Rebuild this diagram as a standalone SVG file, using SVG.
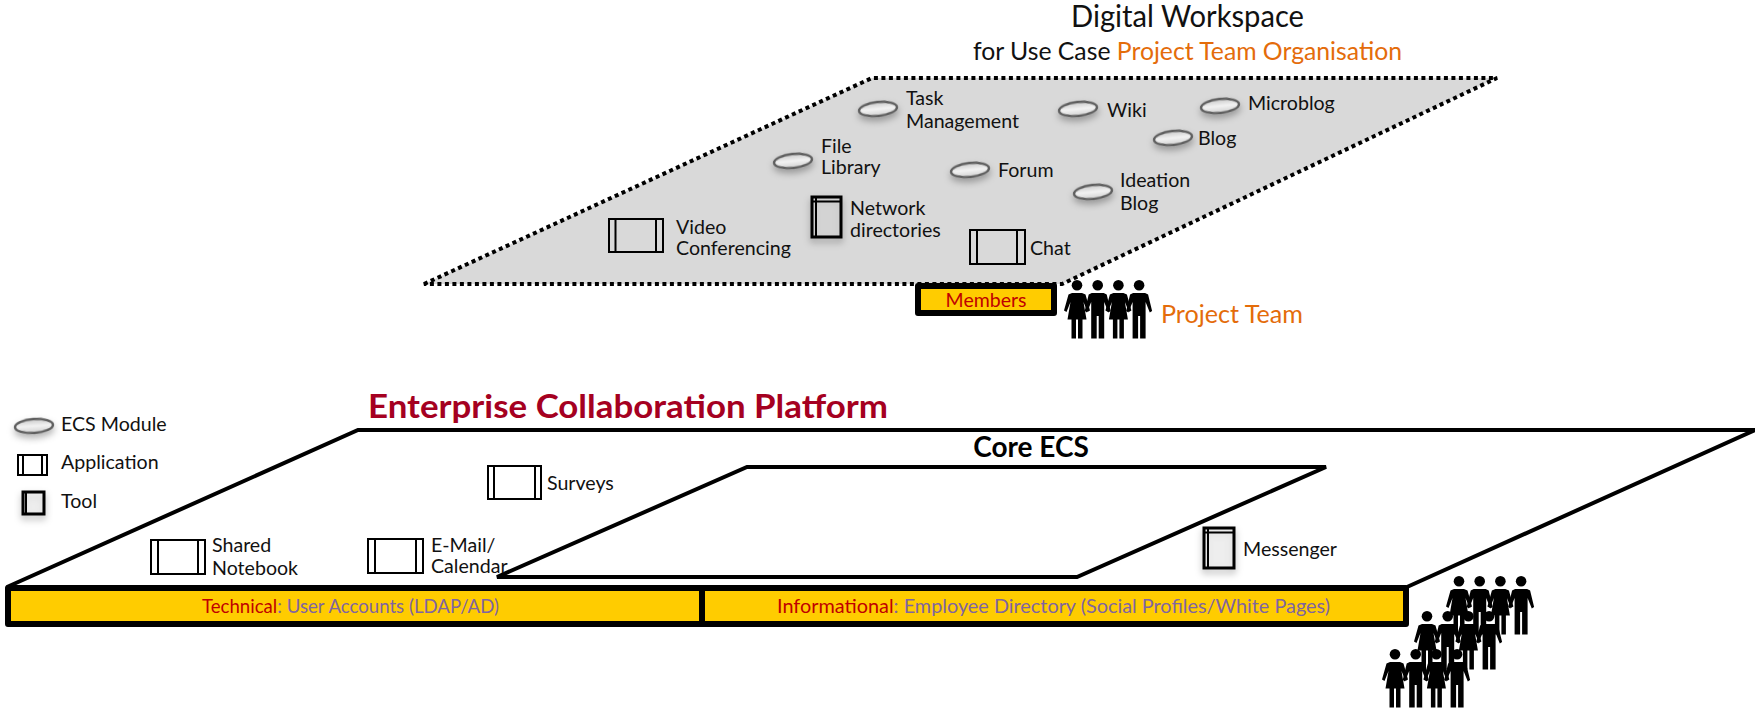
<svg xmlns="http://www.w3.org/2000/svg" xmlns:xlink="http://www.w3.org/1999/xlink" width="1755" height="713" viewBox="0 0 1755 713">
<style>
text{font-family:"Lato","Open Sans","Liberation Sans",sans-serif;fill:#111}
.l{font-size:19.6px}
.o{fill:#E46C0A}
.r{fill:#C00000}
.p{fill:#8064A2}
.app,.tool{fill:none;stroke:#000;stroke-width:2}
.tool-box{fill:#d9d9d9;fill-opacity:.25;stroke:#000;stroke-width:3;filter:url(#sh)}
.mod{fill:url(#g);stroke:#5f5f5f;stroke-width:2.5;filter:url(#sh)}
.bar{fill:#FFCC00;stroke:#000;stroke-width:6;stroke-linejoin:round}
.plat{fill:#fff;stroke:#000;stroke-width:4;stroke-linejoin:miter}
.bk{fill:#000}
</style>
<defs>
<linearGradient id="g" x1="0" y1="0" x2="0" y2="1"><stop offset="0" stop-color="#c8c8c8"/><stop offset=".5" stop-color="#f2f2f2"/><stop offset="1" stop-color="#d0d0d0"/></linearGradient>
<filter id="sh" x="-40%" y="-60%" width="180%" height="240%"><feDropShadow dx="0" dy="4" stdDeviation="3.5" flood-color="#000" flood-opacity=".3"/></filter>
<g id="woman" class="bk"><circle cx="0" cy="5.300" r="5.300"/><path d="M-5 13H5L8.500 14.500L13 30.500L10.500 32L6.500 22L9.500 39.500H5.500V58.500H1V39.500H-1V58.500H-5.500V39.500H-9.500L-6.500 22L-10.500 32L-13 30.500L-8.500 14.500Z"/></g>
<g id="man" class="bk"><circle cx="0" cy="5.300" r="5.300"/><path d="M-6 13H6L9 14.500L13 31L10.700 32.500L6.500 22V58.500H1V36H-1V58.500H-6.500V22L-10.700 32.500L-13 31L-9 14.500Z"/></g>
<g id="team"><use xlink:href="#woman" href="#woman" x="0"/><use href="#man" x="20.700"/><use href="#woman" x="41.400"/><use href="#man" x="62.100"/></g>
</defs>

<g id="digital-workspace">
<path d="M424 284L872 78H1497L1062 284Z" fill="#d9d9d9" stroke="none"/>
<path d="M424 284L872 78H1497L1062 284Z" fill="none" stroke="#000" stroke-width="4" stroke-dasharray="4 3.500"/>
</g>
<g id="title">
<text x="1071" y="27" font-size="31" textLength="233" lengthAdjust="spacingAndGlyphs">Digital Workspace</text>
<text x="973" y="60" font-size="25" textLength="429" lengthAdjust="spacingAndGlyphs">for Use Case <tspan class="o">Project Team Organisation</tspan></text>
</g>
<g id="mod-task"><ellipse class="mod" cx="878" cy="109" rx="19" ry="7" transform="rotate(-6 878 109)"/><text class="l" x="906" y="105">Task</text><text class="l" x="906" y="128">Management</text></g>
<g id="mod-wiki"><ellipse class="mod" cx="1078" cy="109" rx="19" ry="7" transform="rotate(-6 1078 109)"/><text class="l" x="1107" y="117">Wiki</text></g>
<g id="mod-microblog"><ellipse class="mod" cx="1220" cy="106" rx="19" ry="7" transform="rotate(-6 1220 106)"/><text class="l" x="1248" y="110">Microblog</text></g>
<g id="mod-blog"><ellipse class="mod" cx="1173" cy="138" rx="19" ry="7" transform="rotate(-6 1173 138)"/><text class="l" x="1198" y="145">Blog</text></g>
<g id="mod-file"><ellipse class="mod" cx="793" cy="161" rx="19" ry="7" transform="rotate(-6 793 161)"/><text class="l" x="821" y="153">File</text><text class="l" x="821" y="174">Library</text></g>
<g id="mod-forum"><ellipse class="mod" cx="970" cy="170" rx="19" ry="7" transform="rotate(-6 970 170)"/><text class="l" x="998" y="177">Forum</text></g>
<g id="mod-ideation"><ellipse class="mod" cx="1093" cy="192" rx="19" ry="7" transform="rotate(-6 1093 192)"/><text class="l" x="1120" y="187">Ideation</text><text class="l" x="1120" y="210">Blog</text></g>
<g id="app-video"><path class="app" d="M609 219H663V252H609ZM615.500 219V252M656 219V252"/><text class="l" x="676" y="234">Video</text><text class="l" x="676" y="255">Conferencing</text></g>
<g id="tool-network"><rect class="tool-box" x="812" y="197" width="29" height="40"/><path class="tool" d="M816 197V237M812 201.500H841"/><text class="l" x="850" y="215">Network</text><text class="l" x="850" y="237">directories</text></g>
<g id="app-chat"><path class="app" d="M970 230H1025V264H970ZM977 230V264M1017 230V264"/><text class="l" x="1030" y="255">Chat</text></g>
<g id="members"><rect class="bar" x="918" y="286" width="136" height="27"/><text x="986" y="307" font-size="19.500" text-anchor="middle" class="r">Members</text></g>
<g id="project-team"><use href="#team" x="1077" y="280"/><text class="o" x="1161" y="323" font-size="25" textLength="142" lengthAdjust="spacingAndGlyphs">Project Team</text></g>

<g id="enterprise-platform">
<path class="plat" d="M7 587L358 430H1755M1407 587L1755 430"/>
<text x="368" y="418" font-size="32" font-weight="700" style="fill:#A50021" textLength="520" lengthAdjust="spacingAndGlyphs">Enterprise Collaboration Platform</text>
</g>
<g id="core-ecs">
<path class="plat" d="M497 577L747 467H1326L1077 577Z" stroke-width="3.500"/>
<text x="1031" y="457" font-size="28" font-weight="700" text-anchor="middle" style="fill:#000">Core ECS</text>
</g>
<g id="legend-module"><ellipse class="mod" cx="34" cy="426" rx="19" ry="7" transform="rotate(-4 34 426)"/><text class="l" x="61" y="431">ECS Module</text></g>
<g id="legend-application"><path class="app" d="M18 455H47V475H18ZM23 455V475M42 455V475"/><text class="l" x="61" y="469">Application</text></g>
<g id="legend-tool"><rect class="tool-box" x="23" y="492" width="21" height="22"/><path class="tool" d="M26 492V514" stroke-width="4"/><text class="l" x="61" y="508">Tool</text></g>
<g id="app-surveys"><path class="app" d="M488 466H541V499H488ZM494 466V499M535 466V499"/><text class="l" x="547" y="490">Surveys</text></g>
<g id="app-notebook"><path class="app" d="M151 540H205V574H151ZM158 540V574M198 540V574"/><text class="l" x="212" y="552">Shared</text><text class="l" x="212" y="575">Notebook</text></g>
<g id="app-email"><path class="app" d="M368 539H423V573H368ZM375 539V573M416 539V573"/><text class="l" x="431" y="552">E-Mail/</text><text class="l" x="431" y="573">Calendar</text></g>
<g id="tool-messenger"><rect class="tool-box" x="1204" y="528" width="30" height="40"/><path class="tool" d="M1208 528V568M1204 532.500H1234"/><text class="l" x="1243" y="556">Messenger</text></g>

<g id="bar-technical"><rect class="bar" x="8" y="588" width="694" height="36"/><text x="202" y="613" font-size="19" textLength="297" lengthAdjust="spacingAndGlyphs" class="r">Technical<tspan class="p">: User Accounts (LDAP/AD)</tspan></text></g>
<g id="bar-informational"><rect class="bar" x="702" y="588" width="704" height="36"/><text x="777" y="613" font-size="19" textLength="553" lengthAdjust="spacingAndGlyphs" class="r">Informational<tspan class="p">: Employee Directory (Social Profiles/White Pages)</tspan></text></g>

<g id="employees">
<use href="#team" x="1459" y="576"/>
<use href="#team" x="1427" y="611"/>
<use href="#team" x="1395" y="649"/>
</g>
<g id="connectors"/>
</svg>
